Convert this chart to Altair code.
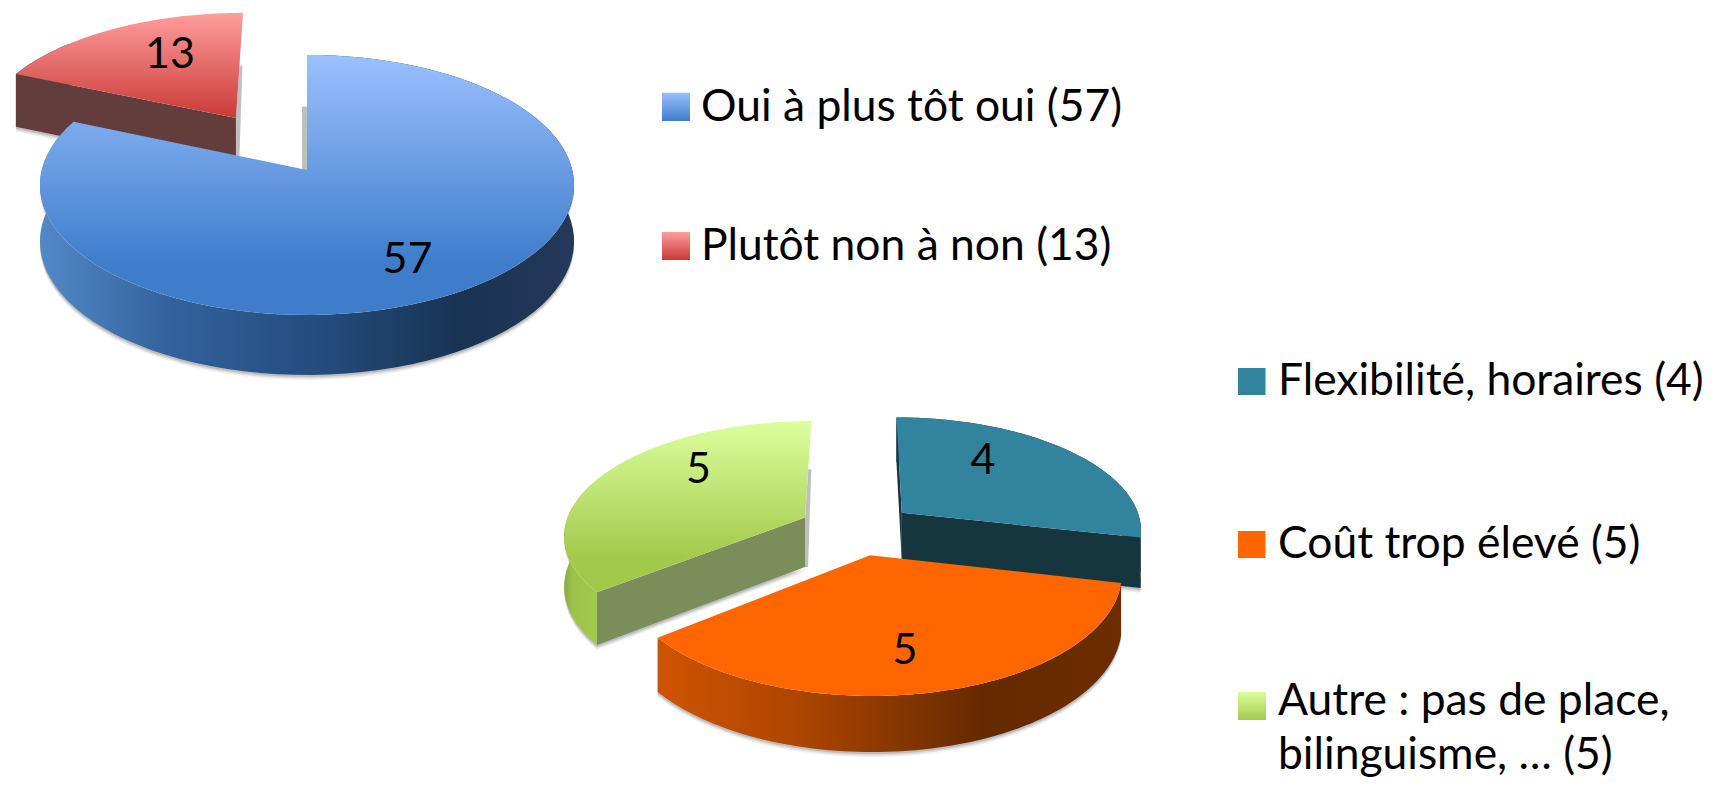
import math
import altair as alt
import pandas as pd

# ---- values ----
PIE_A_LABELS = ["Oui à plus tôt oui (57)", "Plutôt non à non (13)"]
PIE_A_VALUES = [57, 13]
PIE_B_LABELS = ["Flexibilité, horaires (4)", "Coût trop élevé (5)", "Autre : pas de place,", "bilinguisme, … (5)"]
PIE_B_VALUES = [4, 5, 5]

W, H = 1698, 771
M = 8
FONT = "Lato"
TXT = 44.4


def grad(stops, horizontal=False):
    n = [alt.GradientStop(offset=o, color=c) for o, c in stops]
    return alt.LinearGradient(gradient="linear", stops=n, x1=0, y1=0,
                              x2=1 if horizontal else 0, y2=0 if horizontal else 1)


xs = alt.X("x:Q", axis=None, scale=alt.Scale(domain=[M, M + W], nice=False, zero=False))
ys = alt.Y("y:Q", axis=None, scale=alt.Scale(domain=[M + H, M], nice=False, zero=False))


def poly(pts, fill, opacity=1.0):
    df = pd.DataFrame({"x": [p[0] for p in pts], "y": [p[1] for p in pts], "i": list(range(len(pts)))})
    return alt.Chart(df).mark_line(fill=fill, strokeWidth=0, strokeOpacity=0, fillOpacity=opacity, clip=False).encode(
        x=xs, y=ys, order=alt.Order("i:Q"))


class Pie:
    def __init__(self, values, cx, cy, A, B, k, h0, h1):
        self.values, self.cx, self.cy, self.A, self.B, self.k = values, cx, cy, A, B, k
        self.h0, self.h1 = h0, h1
        self.total = sum(values)

    def span(self, i):
        s = sum(self.values[:i]) / self.total * 2 * math.pi
        e = sum(self.values[:i + 1]) / self.total * 2 * math.pi
        return s, e

    def project(self, X, Y, down):
        d = 1 + self.k * Y
        h = (self.h0 - self.h1 * Y) if down else 0
        return (self.cx + self.A * X / d, self.cy - self.B * Y / d + h)

    def centre(self, i, expl):
        s, e = self.span(i)
        m = (s + e) / 2
        return expl * math.sin(m), expl * math.cos(m)

    def arc(self, i, expl, down=False, n=90):
        s, e = self.span(i)
        c = self.centre(i, expl)
        out = []
        for j in range(n + 1):
            t = s + (e - s) * j / n
            out.append(self.project(c[0] + math.sin(t), c[1] + math.cos(t), down))
        return out

    def apex(self, i, expl, down=False):
        c = self.centre(i, expl)
        return self.project(c[0], c[1], down)

    def top(self, i, expl):
        return [self.apex(i, expl)] + self.arc(i, expl)

    def outer(self, i, expl, part=1.0):
        m = int(90 * part) + 1
        return self.arc(i, expl)[:m] + self.arc(i, expl, True)[:m][::-1]

    def face(self, i, expl, end):
        a = self.arc(i, expl)[-1 if end else 0]
        b = self.arc(i, expl, True)[-1 if end else 0]
        return [self.apex(i, expl), a, b, self.apex(i, expl, True)]

    def strip(self, i, expl, end, frac, dx):
        """Thin cast shadow next to the inner cut edge of a slice."""
        a = self.apex(i, expl)
        c = self.arc(i, expl)[-1 if end else 0]
        b = (a[0] + (c[0] - a[0]) * frac, a[1] + (c[1] - a[1]) * frac)
        d = self.apex(i, expl, True)
        return [a, b, (b[0] + dx, b[1]), (d[0] + dx, d[1]), (d[0], d[1])]


def shadow(pts):
    layers = []
    for off, op in [(5, 0.06), (3.5, 0.09), (2, 0.13)]:
        layers.append(poly([(x, y + off) for x, y in pts], "#000000", op))
    return layers


layers = []

# ---- upper pie ----
pa = Pie(PIE_A_VALUES, 307, 170, 265.3, 128.3, 0.115, 56, 4)
E_A = [0.0, 0.51]
blue_top = grad([(0, "#9bc0ff"), (0.8, "#3f7dcb"), (1, "#3f7dcb")])
blue_wall = grad([(0, "#5289c6"), (0.25, "#32619c"), (0.55, "#234a79"), (0.78, "#193353"), (1, "#25395a")], True)
red_top = grad([(0, "#ff9d9d"), (1, "#c93a36")])

layers.append(poly(pa.strip(1, E_A[1], True, 0.5, 3), "#000000", 0.25))
layers += shadow(pa.outer(1, E_A[1], 0.3) + pa.face(1, E_A[1], False))
layers += [poly(pa.outer(1, E_A[1], 0.3), "#633c3c"),
           poly(pa.face(1, E_A[1], False), "#633c3c"),
           poly(pa.top(1, E_A[1]), red_top)]
layers.append(poly(pa.strip(0, E_A[0], False, 0.55, -5), "#000000", 0.25))
layers += shadow(pa.outer(0, E_A[0]))
layers += [poly(pa.outer(0, E_A[0]), blue_wall),
           poly(pa.face(0, E_A[0], False), "#1a3557"),
           poly(pa.top(0, E_A[0]), blue_top)]

# ---- lower pie ----
pb = Pie(PIE_B_VALUES, 857.5, 529.3, 241, 113, 0.14, 50, 5)
E_B = [0.24, 0.228, 0.245]
green_top = grad([(0, "#dcff9f"), (0.8, "#a3c94c"), (1, "#a3c94c")])
green_wall = grad([(0, "#88aa40"), (0.25, "#9bc14a"), (1, "#a3c94c")], True)
orange_wall = grad([(0, "#cf5400"), (0.3, "#ad4600"), (0.7, "#652a00"), (1, "#6c2d00")], True)

layers.append(poly(pb.strip(2, E_B[2], True, 0.5, 3), "#000000", 0.25))
layers += shadow(pb.outer(2, E_B[2], 0.35) + pb.face(2, E_B[2], False))
layers += [poly(pb.outer(2, E_B[2], 0.35), green_wall),
           poly(pb.face(2, E_B[2], False), "#7b8d59"),
           poly(pb.top(2, E_B[2]), green_top)]
layers += shadow(pb.face(0, E_B[0], True))
layers += [poly(pb.outer(0, E_B[0]), "#15353f"),
           poly(pb.face(0, E_B[0], True), "#15353f"),
           poly(pb.face(0, E_B[0], False), "#15353f"),
           poly(pb.top(0, E_B[0]), "#31839e")]
layers += shadow(pb.outer(1, E_B[1]))
layers += [poly(pb.outer(1, E_B[1]), orange_wall),
           poly(pb.top(1, E_B[1]), "#ff6600")]

# ---- slice values ----
slice_df = pd.DataFrame({
    "x": [407.5, 170, 983, 905, 698.5],
    "y": [272.5, 68, 474, 664, 483],
    "t": [str(v) for v in PIE_A_VALUES + PIE_B_VALUES],
})
layers.append(alt.Chart(slice_df).mark_text(font=FONT, fontSize=43, color="#000000", align="center",
                                            baseline="alphabetic").encode(x=xs, y=ys, text="t:N"))

# ---- legends ----
swatches = [
    (662, 690, 92.7, 121, grad([(0, "#9bc0ff"), (1, "#3f7dcb")])),
    (662, 690, 232, 260, grad([(0, "#ff9d9d"), (1, "#c93a36")])),
    (1238, 1265.5, 368, 395, "#31839e"),
    (1238, 1265.5, 531, 558, "#ff6600"),
    (1238, 1266, 692, 720, grad([(0, "#dcff9f"), (1, "#a3c94c")])),
]
for x0, x1, y0, y1, f in swatches:
    d = pd.DataFrame({"x": [x0], "x2": [x1], "y": [y0], "y2": [y1]})
    layers.append(alt.Chart(d).mark_rect(fill=f).encode(x=xs, x2="x2:Q", y=ys, y2="y2:Q"))

legend_df = pd.DataFrame({
    "x": [701, 701, 1278, 1278, 1278, 1278],
    "y": [121, 260, 395, 558, 715, 769],
    "t": PIE_A_LABELS + PIE_B_LABELS,
})
layers.append(alt.Chart(legend_df).mark_text(font=FONT, fontSize=TXT, color="#000000", align="left",
                                             baseline="alphabetic").encode(x=xs, y=ys, text="t:N"))

chart = alt.layer(*layers).properties(width=W, height=H, padding=0, background="#ffffff").configure_view(strokeWidth=0)
chart.save("out.html", embed_options={"renderer": "svg", "actions": False})
